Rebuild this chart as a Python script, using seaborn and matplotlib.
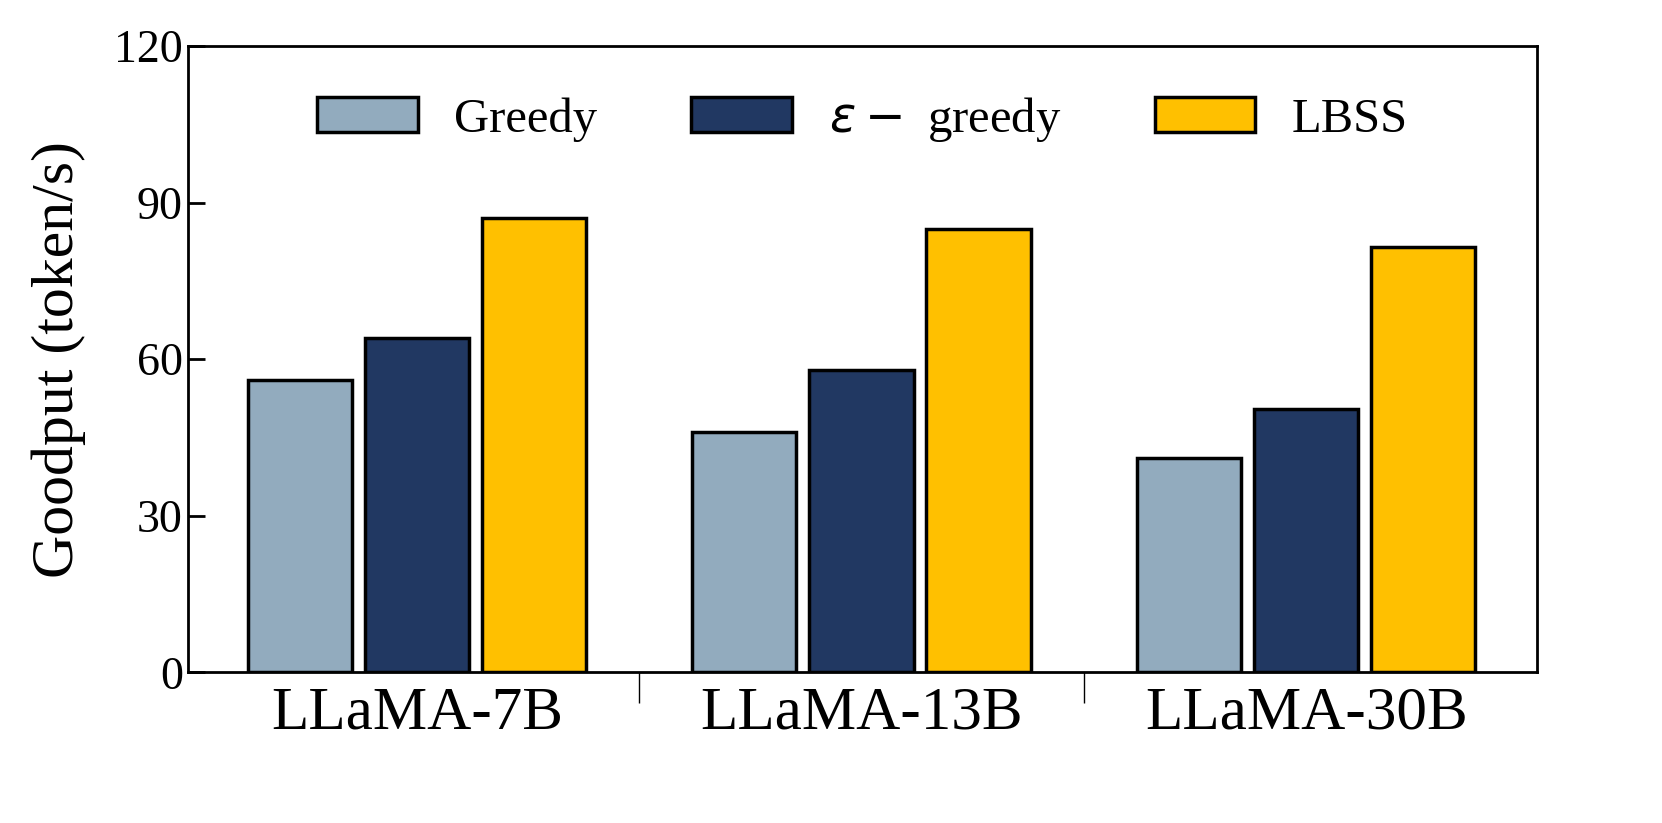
import pandas as pd
import seaborn as sns
import matplotlib.pyplot as plt
from matplotlib.ticker import FixedLocator

models = ["LLaMA-7B", "LLaMA-13B", "LLaMA-30B"]
methods = ["Greedy", r"$\varepsilon -$ greedy", "LBSS"]
greedy = [56, 46, 41]
eps_greedy = [64, 58, 50.5]
lbss = [87, 85, 81.5]
colors = ["#92abbe", "#213862", "#ffc000"]

df = pd.DataFrame({
    "model": models * 3,
    "method": [methods[0]] * 3 + [methods[1]] * 3 + [methods[2]] * 3,
    "goodput": greedy + eps_greedy + lbss,
})

sns.set_style("ticks")
plt.rcParams["font.family"] = ["Liberation Serif", "DejaVu Serif"]
plt.rcParams["mathtext.fontset"] = "dejavusans"
plt.rcParams["text.color"] = "black"
plt.rcParams["axes.labelcolor"] = "black"
plt.rcParams["xtick.color"] = "black"
plt.rcParams["ytick.color"] = "black"
plt.rcParams["axes.edgecolor"] = "black"

fig, ax = plt.subplots(figsize=(16.62, 8.23), dpi=100)
fig.subplots_adjust(left=0.113, right=0.925, top=0.944, bottom=0.183)

sns.barplot(data=df, x="model", y="goodput", hue="method", palette=colors,
            width=0.79, gap=0.11, edgecolor="black", linewidth=2.5,
            saturation=1, ax=ax)

ax.set_ylim(0, 120)
ax.set_yticks([0, 30, 60, 90, 120])
ax.set_xlim(-0.515, 2.52)
ax.set_xlabel("")
ax.set_ylabel("Goodput (token/s)", fontsize=43, labelpad=20)
ax.tick_params(axis="y", direction="in", length=12, width=2, labelsize=33)
ax.tick_params(axis="x", length=0, labelsize=44, pad=10)
ax.xaxis.set_minor_locator(FixedLocator([0.5, 1.5]))
ax.tick_params(axis="x", which="minor", direction="out", length=22, width=1.0)
for s in ax.spines.values():
    s.set_linewidth(2)
    s.set_visible(True)

ax.legend(loc="upper center", ncol=3, frameon=False, fontsize=35,
          handlelength=2.06, handleheight=0.72, columnspacing=1.93,
          handletextpad=0.76, bbox_to_anchor=(0.5, 1.0), borderaxespad=0.6)

fig.savefig("out.png", dpi=100)
